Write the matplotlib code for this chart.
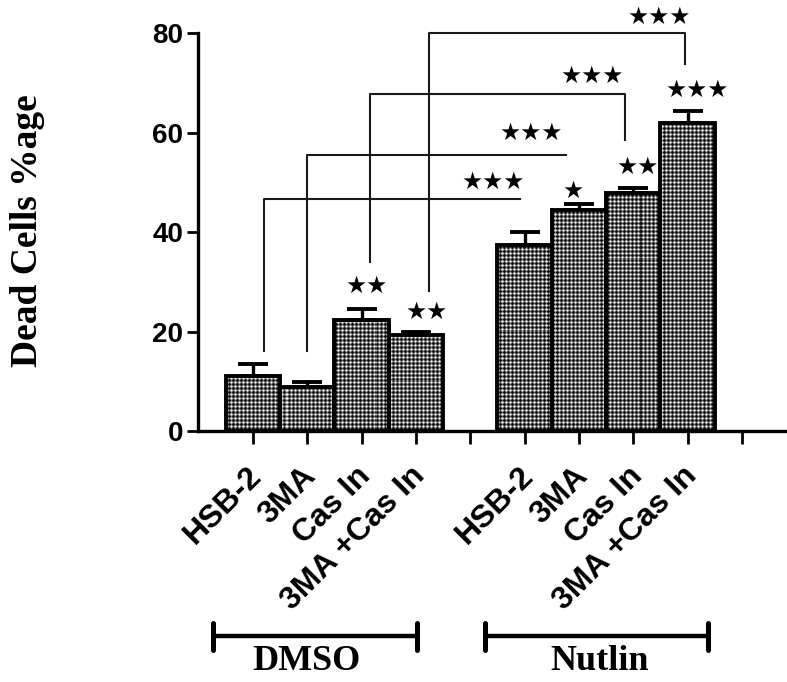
import numpy as np
import matplotlib
matplotlib.use("Agg")
import matplotlib.pyplot as plt
from matplotlib.transforms import ScaledTranslation, blended_transform_factory

# ---- data -------------------------------------------------------------
categories = ["HSB-2", "3MA", "Cas In", "3MA +Cas In",
              "HSB-2", "3MA", "Cas In", "3MA +Cas In"]
positions = [1, 2, 3, 4, 6, 7, 8, 9]
means = [11.0, 8.8, 22.3, 19.3, 37.4, 44.4, 47.9, 61.9]
sems = [2.5, 1.1, 2.3, 0.7, 2.6, 1.2, 0.9, 2.4]
bar_stars = ["", "", "★★", "★★", "", "★", "★★", "★★★"]
bar_star_pos = [(0, 0), (0, 0), (3.09, 29.1), (4.2, 23.9),
                (0, 0), (6.9, 48.2), (8.08, 53.1), (9.17, 68.5)]

# comparison brackets: (x start, y start, y top, x end, y end drop, label, label x, label y)
brackets = [
    (1.20, 16.1, 46.6, 5.91, None, "★★★", 5.43, 50.0),
    (2.00, 16.1, 55.5, 6.76, None, "★★★", 6.13, 59.9),
    (3.15, 34.0, 67.7, 7.85, 58.5, "★★★", 7.24, 71.4),
    (4.25, 28.1, 80.0, 8.95, 73.8, "★★★", 8.47, 83.2),
]
groups = ["DMSO", "Nutlin"]
group_spans = [(0.27, 4.02), (5.28, 9.38)]
group_centers = [1.98, 7.39]
yticks = [0, 20, 40, 60, 80]

# ---- figure -----------------------------------------------------------
W, H, DPI = 787, 682, 100
fig = plt.figure(figsize=(W / DPI, H / DPI), dpi=DPI)
ax = fig.add_axes([0.2522, 0.368, 0.7478, 0.5836])
ax.set_xlim(0, 10.83)
ax.set_ylim(0, 80)

# dotted checker texture for the bar fill
bbox = ax.get_window_extent()
pw, ph = int(round(bbox.width)), int(round(bbox.height))
yy, xx = np.mgrid[0:ph, 0:pw]
tex = 0.40 + 0.30 * (np.cos(np.pi * xx / 2) + np.cos(np.pi * yy / 2))
tex = np.clip(tex, 0, 1)

bars = ax.bar(positions, means, width=1.0, facecolor="none",
              edgecolor="black", linewidth=2.8, zorder=3)
for b in bars:
    im = ax.imshow(tex, cmap="gray", vmin=0, vmax=1, extent=(0, 10.83, 0, 80),
                   origin="lower", interpolation="nearest", aspect="auto",
                   zorder=2)
    im.set_clip_path(b)

ax.errorbar(positions, means, yerr=[np.zeros(len(sems)), sems], fmt="none",
            ecolor="black", elinewidth=2.4, capsize=11, capthick=2.8, zorder=4)

STAR_SIZE = 17

# significance markers above bars
for s, (sx, sy) in zip(bar_stars, bar_star_pos):
    if s:
        ax.text(sx, sy, s, ha="center", va="center", fontsize=STAR_SIZE,
                family="DejaVu Sans", zorder=5)

# comparison brackets
for x0, y0, ytop, x1, yend, lab, lx, ly in brackets:
    xs = [x0, x0, x1]
    ys = [y0, ytop, ytop]
    if yend is not None:
        xs.append(x1)
        ys.append(yend)
    ax.plot(xs, ys, color="#1a1a1a", linewidth=1.5, clip_on=False, zorder=4)
    ax.text(lx, ly, lab, ha="center", va="center", fontsize=STAR_SIZE,
            family="DejaVu Sans", clip_on=False, zorder=5)

# axes styling
for side in ("top", "right"):
    ax.spines[side].set_visible(False)
for side in ("left", "bottom"):
    ax.spines[side].set_linewidth(2.4)
ax.set_yticks(yticks)
ax.set_yticklabels([str(v) for v in yticks], fontsize=20, fontweight="bold",
                   family="Liberation Sans")
ax.tick_params(axis="y", length=8, width=2, pad=3)
ax.set_xticks(list(range(1, 11)))
ax.set_xticklabels([])
ax.tick_params(axis="x", length=9, width=2, direction="out")

# rotated category labels
xtrans = ax.get_xaxis_transform()
for p, c in zip(positions, categories):
    off = ScaledTranslation(-6 / DPI, -30 / DPI, fig.dpi_scale_trans)
    ax.text(p, 0, c, rotation=45, rotation_mode="anchor", ha="right", va="top",
            fontsize=23, fontweight="bold", family="Liberation Sans",
            transform=xtrans + off, clip_on=False)

# treatment group brackets and names
gtrans = blended_transform_factory(ax.transData, ax.transAxes)
yb = -0.516
for (a, b), name, cx in zip(group_spans, groups, group_centers):
    ax.plot([a, b], [yb, yb], color="black", linewidth=3.2, transform=gtrans,
            clip_on=False, solid_capstyle="butt")
    for e in (a, b):
        ax.plot([e, e], [yb - 0.034, yb + 0.034], color="black", linewidth=3.6,
                transform=gtrans, clip_on=False, solid_capstyle="round")
    ax.text(cx, -0.578, name, ha="center", va="center", fontsize=26,
            fontweight="bold", family="Liberation Serif", transform=gtrans)

fig.text(28 / W, 1 - 231 / H, "Dead Cells %age", rotation=90, ha="center",
         va="center", fontsize=27, fontweight="bold", family="Liberation Serif")

fig.savefig("out.png", dpi=DPI)
